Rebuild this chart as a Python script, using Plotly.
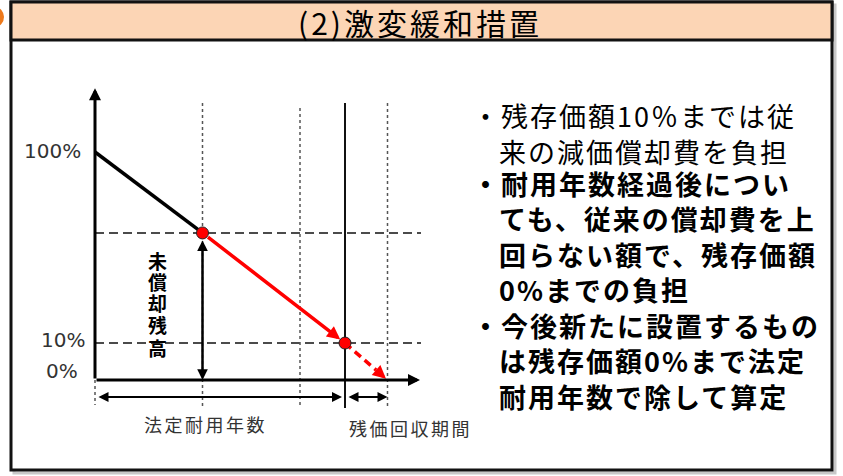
import plotly.graph_objects as go

# ---------------- data (schematic units) ----------------
# x: elapsed years, y: remaining book value (% of cost, schematic diagram)
guide_years = [4.3, 8.2, 11.7]      # dotted vertical guides
life_end = 10.0                      # end of legal useful life (solid guide)
axis_end_year = 13.0
axis_top_value = 128
guide_tops = [121.5, 119.3, 121.5]   # top of dotted guides
life_top = 121.5
book_years = [0, 4.3, 10.0, 11.7]
book_value = [100, 64.5, 16.2, 0]
guide_levels = [64.5, 16.2]
tick_values = [100, 16.2, 0]
tick_labels = ["100%", "10%", "0%"]
vertical_label = list("未償却残高")
period_labels = ["法定耐用年数", "残価回収期間"]
title_text = "(2)激変緩和措置"
note_lines = [
    "・残存価額10％までは従",
    "来の減価償却費を負担",
    "・耐用年数経過後につい",
    "ても、従来の償却費を上",
    "回らない額で、残存価額",
    "0%までの負担",
    "・今後新たに設置するもの",
    "は残存価額0%まで法定",
    "耐用年数で除して算定",
]
note_bold = [False, False, True, True, True, True, True, True, True]

# ---------------- layout constants (pixels) ----------------
W, H = 843, 476
X0, PXX = 95, 25.0      # pixel of year 0, pixels per year
Y0, PXY = 380, 2.28     # pixel of 0 %, pixels per %


def dx(px):
    return (px - X0) / PXX


def dy(py):
    return (Y0 - py) / PXY


def px_(p):
    return p / W


def py_(p):
    return 1 - p / H


CJK = "Noto Sans CJK JP"
fig = go.Figure()

# ---- background frame / title bar (paper) ----
shapes = []
shapes.append(dict(type="rect", xref="paper", yref="paper", x0=px_(14), x1=px_(835),
                   y0=py_(473), y1=py_(5), line=dict(color="#c8c8c8", width=3),
                   fillcolor="rgba(0,0,0,0)", layer="below"))
shapes.append(dict(type="rect", xref="paper", yref="paper", x0=px_(11), x1=px_(832),
                   y0=py_(470), y1=py_(2), line=dict(color="#111111", width=3),
                   fillcolor="white", layer="below"))
shapes.append(dict(type="rect", xref="paper", yref="paper", x0=px_(11), x1=px_(832),
                   y0=py_(40), y1=py_(2), line=dict(color="#111111", width=3),
                   fillcolor="#FCD5B5", layer="below"))
shapes.append(dict(type="circle", xref="paper", yref="paper", x0=px_(-14), x1=px_(4),
                   y0=py_(27), y1=py_(7), line=dict(width=0),
                   fillcolor="#EE7A1C", layer="above"))

# ---- guides ----
for lv in guide_levels:
    shapes.append(dict(type="line", xref="x", yref="y", x0=0, x1=dx(421), y0=lv, y1=lv,
                       line=dict(color="#111111", width=1.5, dash="9px,5px"), layer="below"))
for gx, gt in zip(guide_years, guide_tops):
    shapes.append(dict(type="line", xref="x", yref="y", x0=gx, x1=gx, y0=gt, y1=dy(406),
                       line=dict(color="#555555", width=1.5, dash="dot"), layer="below"))
shapes.append(dict(type="line", xref="x", yref="y", x0=0, x1=0, y0=0, y1=dy(405),
                   line=dict(color="#555555", width=1.5, dash="dot"), layer="below"))
shapes.append(dict(type="line", xref="x", yref="y", x0=life_end, x1=life_end,
                   y0=life_top, y1=dy(408), line=dict(color="#111111", width=2),
                   layer="below"))

# ---- book-value path ----
fig.add_trace(go.Scatter(x=book_years[0:2], y=book_value[0:2], mode="lines",
                         line=dict(color="#000000", width=3.5), hoverinfo="skip"))
# dashed red segment (ends where arrowhead starts)
t = 1 - 15 / (((book_years[3] - book_years[2]) * PXX) ** 2 +
               ((book_value[3] - book_value[2]) * PXY) ** 2) ** 0.5
hx = book_years[2] + t * (book_years[3] - book_years[2])
hy = book_value[2] + t * (book_value[3] - book_value[2])
fig.add_trace(go.Scatter(x=[book_years[2], hx], y=[book_value[2], hy], mode="lines",
                         line=dict(color="#FF0000", width=3.5, dash="8px,5px"),
                         hoverinfo="skip"))

anns = []


def arrow(x, y, ax, ay, color="#000000", width=3, size=0.8, side="end",
          standoff=0, startstandoff=0):
    anns.append(dict(x=x, y=y, ax=ax, ay=ay, xref="x", yref="y", axref="x", ayref="y",
                     text="", showarrow=True, arrowhead=2, startarrowhead=2,
                     arrowsize=size, startarrowsize=size, arrowwidth=width,
                     arrowcolor=color, arrowside=side, standoff=standoff,
                     startstandoff=startstandoff))


# red solid arrow
arrow(book_years[2], book_value[2], book_years[1], book_value[1], color="#FF0000",
      width=3.5, size=0.75, standoff=6, startstandoff=5)
# red dashed arrow head
arrow(book_years[3], book_value[3], hx, hy, color="#FF0000", width=3.5, size=0.75,
      standoff=2)
# axes
arrow(0, axis_top_value, 0, 0, width=3, size=0.8)
arrow(axis_end_year, 0, 0, 0, width=3, size=0.8)
# unpaid balance double arrow
arrow(book_years[1], 0, book_years[1], book_value[1], width=2.5, size=0.85,
      side="end+start", startstandoff=6)
# period double arrows
ya = dy(397)
arrow(life_end, ya, 0, ya, width=2, size=1, side="end+start", standoff=3,
      startstandoff=2)
arrow(book_years[3], ya, life_end, ya, width=2, size=1, side="end+start", standoff=0,
      startstandoff=2)

# dots
fig.add_trace(go.Scatter(x=book_years[1:3], y=book_value[1:3], mode="markers",
                         marker=dict(color="#FF0000", size=12,
                                     line=dict(color="#222222", width=1)),
                         hoverinfo="skip"))

# ---- text ----
tick_shift = [(-2, 1), (2, 3), (-5, 9)]
for v, lab, (sx, sy) in zip(tick_values, tick_labels, tick_shift):
    anns.append(dict(x=dx(85), y=v, xref="x", yref="y", text=lab, showarrow=False,
                     xanchor="right", yanchor="middle", xshift=sx, yshift=sy,
                     font=dict(family="DejaVu Sans", size=20, color="#333333")))

vl_y = [260, 281, 302, 324, 347]
for ch, cy in zip(vertical_label, vl_y):
    anns.append(dict(x=dx(157), y=dy(cy), xref="x", yref="y", text="<b>%s</b>" % ch,
                     showarrow=False, xanchor="center", yanchor="middle",
                     font=dict(family=CJK, size=19, color="#000000")))

for lab, cx, cy in zip(period_labels, [205, 410], [424, 428]):
    anns.append(dict(x=dx(cx), y=dy(cy), xref="x", yref="y",
                     text='<span style="letter-spacing:2.5px">%s</span>' % lab,
                     showarrow=False, xanchor="center", yanchor="middle",
                     font=dict(family=CJK, size=18, color="#333333")))

note_y = [115, 151, 183, 218.5, 254, 289.5, 325, 360.5, 396]
for line, bold, cy in zip(note_lines, note_bold, note_y):
    sx = 469.5 if line.startswith("・") else 497
    txt = '<span style="letter-spacing:2px">%s</span>' % line
    if bold:
        txt = "<b>%s</b>" % txt
    anns.append(dict(x=dx(sx), y=dy(cy), xref="x", yref="y", text=txt,
                     showarrow=False, xanchor="left", yanchor="middle",
                     font=dict(family=CJK, size=27, color="#000000")))

anns.append(dict(x=px_(420), y=py_(22), xref="paper", yref="paper",
                 text='<span style="letter-spacing:3px">%s</span>' % title_text,
                 showarrow=False, xanchor="center", yanchor="middle",
                 font=dict(family=CJK, size=30, color="#000000")))

fig.update_layout(
    width=W, height=H, margin=dict(l=0, r=0, t=0, b=0),
    paper_bgcolor="white", plot_bgcolor="rgba(0,0,0,0)",
    showlegend=False, shapes=shapes, annotations=anns,
    xaxis=dict(range=[dx(0), dx(W)], visible=False, fixedrange=True),
    yaxis=dict(range=[dy(H), dy(0)], visible=False, fixedrange=True),
)
fig.write_html("out.html", config={"displayModeBar": False},
               post_script="document.body.style.margin='0';"
                           "document.body.style.overflow='hidden';")
